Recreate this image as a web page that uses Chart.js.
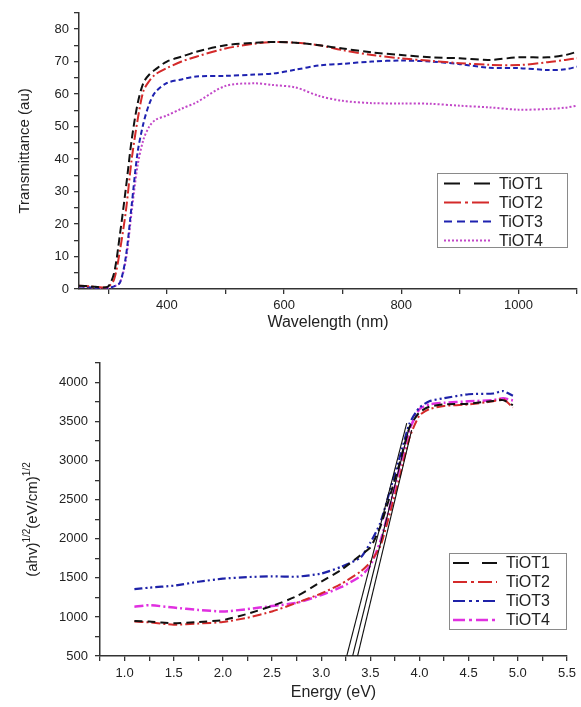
<!DOCTYPE html>
<html>
<head>
<meta charset="utf-8">
<script src="https://cdn.jsdelivr.net/npm/chart.js@4.4.1/dist/chart.umd.min.js"></script>
<style>
html, body { margin: 0; padding: 0; background: #fff; }
#wrap { position: relative; width: 581px; height: 707px; }
#topChart { position: absolute; left: 0; top: 0; }
#bottomChart { position: absolute; left: 0; top: 345px; }
</style>
</head>
<body>
<div id="wrap">
  <canvas id="topChart" width="581" height="340"></canvas>
  <canvas id="bottomChart" width="581" height="362"></canvas>
</div>
<script>
/**
 * Transmittance spectra (top panel)
 */
var wavelength = [250, 270, 290, 300, 310, 320, 330, 340, 350, 360, 370, 380, 400, 425, 450, 500, 550, 580, 620, 660, 700, 750, 800, 850, 900, 950, 1000, 1050, 1080, 1100];
var transT1 = [1.0, 0.8, 0.5, 0.8, 5, 17, 31, 46, 57, 63.5, 66, 67.5, 70, 71.5, 73, 75, 75.8, 76, 75.8, 75, 74, 72.8, 72, 71.3, 71, 70.5, 71.3, 71.3, 72, 73];
var transT2 = [1.0, 0.8, 0.5, 0.7, 3, 12, 24, 40, 52, 61, 64, 66, 68, 70, 71.5, 74, 75.5, 76, 75.8, 75, 73.5, 72, 71, 70.2, 69.5, 69, 68.9, 69.8, 70.5, 71];
var transT3 = [0.8, 0.5, 0.3, 0.3, 0.8, 2, 10, 26, 42, 51, 57, 60.5, 63.4, 64.5, 65.4, 65.6, 66, 66.3, 67.5, 68.8, 69.3, 70, 70.3, 70, 69.2, 68.1, 68, 67.4, 67.6, 68.4];
var transT4 = [0.8, 0.5, 0.3, 0.3, 0.8, 2, 9, 24, 38, 46, 50, 52, 53.4, 55.5, 57.4, 62.5, 63.3, 62.8, 62, 59.4, 57.9, 57.2, 57.1, 57, 56.4, 55.9, 55.2, 55.4, 55.8, 56.4];

/**
 * Tauc plot (bottom panel)
 */
var energy = [1.1, 1.25, 1.5, 1.75, 2.0, 2.25, 2.5, 2.75, 3.0, 3.2, 3.4, 3.5, 3.6, 3.7, 3.8, 3.9, 4.0, 4.1, 4.25, 4.5, 4.75, 4.85, 4.95];
var taucT1 = [948, 940, 918, 935, 960, 1040, 1140, 1265, 1450, 1600, 1790, 1890, 2150, 2550, 2980, 3430, 3620, 3690, 3720, 3730, 3765, 3775, 3710];
var taucT2 = [940, 930, 900, 915, 935, 990, 1070, 1180, 1300, 1420, 1580, 1700, 1900, 2330, 2800, 3300, 3580, 3660, 3700, 3720, 3760, 3790, 3680];
var taucT3 = [1355, 1375, 1400, 1450, 1490, 1510, 1520, 1515, 1555, 1640, 1760, 1950, 2200, 2620, 3050, 3480, 3680, 3760, 3800, 3850, 3860, 3890, 3830];
var taucT4 = [1130, 1150, 1120, 1090, 1070, 1100, 1140, 1180, 1280, 1380, 1520, 1660, 1960, 2420, 2920, 3400, 3660, 3720, 3740, 3760, 3775, 3800, 3770];

// linear extrapolation lines (x: energy, y: value) for band gap
var fitEnergy = [[3.26, 3.87], [3.32, 3.90], [3.37, 3.92]];
var fitValue = [[500, 3480], [500, 3450], [500, 3390]];

const seriesNames = ["TiOT1", "TiOT2", "TiOT3", "TiOT4"];

const fontFamily = "'Liberation Sans', Arial, sans-serif";
const axisColor = '#333';
const textColor = '#222';

// builds {x,y} points from two arrays
function points(xs, ys) {
    return xs.map((x, i) => ({x: x, y: ys[i]}));
}

// ticks from min to max every step (major + minor)
function tickList(from, to, step) {
    var list = [];
    for (var v = from; v <= to + 1e-9; v += step) list.push({value: Math.round(v * 1000) / 1000});
    return list;
}

/**
 * Legend drawn in a bordered box inside the plot
 */
const boxLegend = {
    id: 'boxLegend',
    afterDraw(chart, args, o) {
        const ctx = chart.ctx;
        ctx.save();
        ctx.fillStyle = '#fff';
        ctx.fillRect(o.left, o.top, o.width, o.height);
        ctx.strokeStyle = '#8a8a8a';
        ctx.lineWidth = 1;
        ctx.strokeRect(o.left + 0.5, o.top + 0.5, o.width, o.height);
        chart.data.datasets.filter(d => !d.noLegend).forEach((d, i) => {
            const y = o.top + o.firstRow + i * o.rowGap;
            ctx.setLineDash(d.legendDash || d.borderDash || []);
            ctx.strokeStyle = d.borderColor;
            ctx.lineWidth = d.borderWidth;
            ctx.beginPath();
            ctx.moveTo(o.left + o.lineStart, y);
            ctx.lineTo(o.left + o.lineEnd, y);
            ctx.stroke();
            ctx.setLineDash([]);
            ctx.fillStyle = textColor;
            ctx.font = o.font;
            ctx.textBaseline = 'middle';
            ctx.fillText(d.label, o.left + o.textStart, y + 1);
        });
        ctx.restore();
    }
};

/**
 * Rotated y title with superscripts (bottom panel)
 */
const superTitle = {
    id: 'superTitle',
    afterDraw(chart, args, o) {
        if (!o.parts) return;
        const ctx = chart.ctx;
        const area = chart.chartArea;
        ctx.save();
        ctx.translate(o.x, (area.top + area.bottom) / 2 + o.shift);
        ctx.rotate(-Math.PI / 2);
        ctx.fillStyle = textColor;
        ctx.textBaseline = 'alphabetic';
        var total = 0;
        o.parts.forEach(p => { ctx.font = p.font; total += ctx.measureText(p.text).width; });
        var x = -total / 2;
        o.parts.forEach(p => {
            ctx.font = p.font;
            ctx.fillText(p.text, x, 5 + p.rise);
            x += ctx.measureText(p.text).width;
        });
        ctx.restore();
    }
};

function axis(extra) {
    return Object.assign({
        type: 'linear',
        border: {color: axisColor, width: 1.5},
        grid: {drawOnChartArea: false, color: axisColor, lineWidth: 1.3, tickLength: 5},
    }, extra);
}

/**
 * Top: transmittance
 */
new Chart(document.getElementById('topChart').getContext('2d'), {
    type: 'line',
    data: {
        datasets: [{
            label: seriesNames[0],
            data: points(wavelength, transT1),
            borderColor: '#111', borderWidth: 2, borderDash: [8, 4],
            legendDash: [16, 14]
        }, {
            label: seriesNames[1],
            data: points(wavelength, transT2),
            borderColor: '#d42a2a', borderWidth: 2, borderDash: [10, 3, 2, 3],
            legendDash: [17, 4, 3, 4]
        }, {
            label: seriesNames[2],
            data: points(wavelength, transT3),
            borderColor: '#1e22b0', borderWidth: 2, borderDash: [5, 3],
            legendDash: [8, 5]
        }, {
            label: seriesNames[3],
            data: points(wavelength, transT4),
            borderColor: '#c247c8', borderWidth: 2, borderDash: [2, 2],
        }]
    },
    options: {
        responsive: false,
        animation: false,
        events: [],
        elements: {point: {radius: 0}, line: {tension: 0.3}},
        layout: {padding: {left: 0, right: 4, top: 5, bottom: 0}},
        plugins: {
            legend: {display: false},
            tooltip: {enabled: false},
            boxLegend: {left: 437, top: 173, width: 130, height: 74, firstRow: 10.5, rowGap: 19,
                        lineStart: 7, lineEnd: 54, textStart: 62, font: '16px ' + fontFamily},
            superTitle: {}
        },
        scales: {
            x: axis({
                min: 250, max: 1100,
                afterBuildTicks: s => { s.ticks = tickList(300, 1100, 100); },
                afterFit: s => { s.height = 51; },
                ticks: {
                    autoSkip: false, maxRotation: 0, padding: 4, color: textColor,
                    font: {family: fontFamily, size: 13},
                    callback: v => (v % 200 === 0 && v <= 1000) ? v : ''
                },
                title: {display: true, text: 'Wavelength (nm)', color: textColor,
                        font: {family: fontFamily, size: 16}, padding: {top: 0, bottom: 8}}
            }),
            y: axis({
                min: 0, max: 85,
                afterBuildTicks: s => { s.ticks = tickList(0, 85, 5); },
                afterFit: s => { s.width = 79; },
                ticks: {
                    autoSkip: false, padding: 5, color: textColor,
                    font: {family: fontFamily, size: 13},
                    callback: v => (v % 10 === 0) ? v : ''
                },
                title: {display: true, text: 'Transmittance (au)', color: textColor,
                        font: {family: fontFamily, size: 15}, padding: {top: 16, bottom: 0}}
            })
        }
    },
    plugins: [boxLegend, superTitle]
});

/**
 * Bottom: Tauc plot
 */
var fitSets = fitEnergy.map((xs, i) => ({
    label: 'fit' + (i + 1),
    data: points(xs, fitValue[i]),
    borderColor: '#111', borderWidth: 1.1, tension: 0, noLegend: true
}));

new Chart(document.getElementById('bottomChart').getContext('2d'), {
    type: 'line',
    data: {
        datasets: fitSets.concat([{
            label: seriesNames[0],
            data: points(energy, taucT1),
            borderColor: '#111', borderWidth: 2, borderDash: [8, 5],
            legendDash: [16, 13]
        }, {
            label: seriesNames[1],
            data: points(energy, taucT2),
            borderColor: '#d42a2a', borderWidth: 2, borderDash: [9, 3, 2, 3],
            legendDash: [14, 4, 3, 4]
        }, {
            label: seriesNames[2],
            data: points(energy, taucT3),
            borderColor: '#1e22a8', borderWidth: 2.2, borderDash: [8, 3, 2, 3, 2, 3],
            legendDash: [12, 4, 3, 4, 3, 4]
        }, {
            label: seriesNames[3],
            data: points(energy, taucT4),
            borderColor: '#e030e0', borderWidth: 2.5, borderDash: [9, 3, 2, 3],
            legendDash: [12, 4, 3, 4]
        }])
    },
    options: {
        responsive: false,
        animation: false,
        events: [],
        elements: {point: {radius: 0}, line: {tension: 0.2}},
        layout: {padding: {left: 0, right: 14, top: 18, bottom: 0}},
        plugins: {
            legend: {display: false},
            tooltip: {enabled: false},
            boxLegend: {left: 449, top: 208, width: 117, height: 76, firstRow: 10, rowGap: 19,
                        lineStart: 4, lineEnd: 48, textStart: 57, font: '16px ' + fontFamily},
            superTitle: {
                x: 32, shift: 10,
                parts: [
                    {text: '(ahv)', font: '15px ' + fontFamily, rise: 0},
                    {text: '1/2', font: '10px ' + fontFamily, rise: -7},
                    {text: '(eV/cm)', font: '15px ' + fontFamily, rise: 0},
                    {text: '1/2', font: '10px ' + fontFamily, rise: -7}
                ]
            }
        },
        scales: {
            x: axis({
                min: 0.75, max: 5.5,
                afterBuildTicks: s => { s.ticks = tickList(0.75, 5.5, 0.25); },
                afterFit: s => { s.height = 51; },
                ticks: {
                    autoSkip: false, maxRotation: 0, padding: 5, color: textColor,
                    font: {family: fontFamily, size: 13},
                    callback: v => (Math.abs(v * 2 - Math.round(v * 2)) < 1e-6) ? v.toFixed(1) : ''
                },
                title: {display: true, text: 'Energy (eV)', color: textColor,
                        font: {family: fontFamily, size: 16}, padding: {top: 0, bottom: 5}}
            }),
            y: axis({
                min: 500, max: 4250,
                afterBuildTicks: s => { s.ticks = tickList(500, 4250, 250); },
                afterFit: s => { s.width = 100; },
                ticks: {
                    autoSkip: false, padding: 7, color: textColor,
                    font: {family: fontFamily, size: 13},
                    callback: v => (v % 500 === 0) ? v : ''
                },
                title: {display: false}
            })
        }
    },
    plugins: [boxLegend, superTitle]
});
</script>
</body>
</html>
